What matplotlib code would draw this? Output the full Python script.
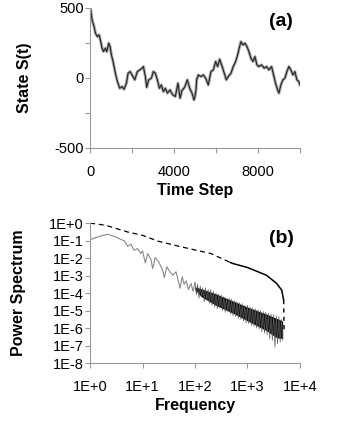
import numpy as np
import matplotlib
matplotlib.use("Agg")
from matplotlib import pyplot as plt

# panel (a): random walk
step = [0, 32, 95, 190, 254, 349, 429, 508, 571, 635, 730, 794, 889, 952, 1016,
        1095, 1206, 1302, 1413, 1524, 1619, 1730, 1810, 1905, 2000, 2127, 2254,
        2365, 2476, 2540, 2635, 2698, 2794, 2921, 3016, 3111, 3206, 3302, 3397,
        3492, 3587, 3683, 3810, 3937, 4063, 4190, 4286, 4381, 4508, 4635, 4746,
        4857, 4952, 5000, 5048, 5079, 5159, 5286, 5397, 5508, 5635, 5762, 5873,
        5984, 6079, 6175, 6270, 6397, 6492, 6587, 6714, 6825, 6937, 7032, 7127,
        7190, 7286, 7381, 7476, 7571, 7667, 7762, 7857, 7952, 8048, 8175, 8302,
        8413, 8524, 8651, 8746, 8841, 8937, 9000, 9095, 9190, 9286, 9381, 9476,
        9571, 9667, 9762, 9857, 9952, 10000]
state = [500, 486, 414, 367, 319, 295, 307, 259, 212, 188, 212, 188, 248, 224, 164,
         117, 33, -26, -74, -62, -81, -38, 33, 45, 21, -14, 45,
         57, 69, 81, 9, -67, -14, -2, 45, 33, -14, -74, -50,
         -98, -74, -109, -86, -121, -133, -38, -145, -90, -67, -14, -74,
         -109, -157, -133, -86, -14, 21, 9, 21, -2, -50, 45, 57,
         117, 81, 133, 93, 33, -14, 9, 33, 81, 117, 164, 224,
         259, 236, 248, 224, 188, 141, 117, 152, 93, 81, 93, 69,
         81, 57, 81, 21, -38, -86, -109, -50, -14, -2, 45, 81,
         57, 21, 45, -14, -26, -50]

# panel (b): spectrum of the walk (log10 values), low frequency part
freq_lo = [1, 1.49, 2.15, 2.88, 3.6, 4.5, 5.2, 6.0, 6.9, 8.0, 9.3, 10, 11.3,
           12.5, 14.5, 15.6, 17.5, 20.3, 24.2, 26.1, 29, 33.3, 37.6, 43.6, 52,
           57, 62, 68, 75, 84, 92, 100]
spec_lo = [-0.95, -0.76, -0.64, -0.76, -0.89, -1.02, -1.33, -1.21, -1.55,
           -1.46, -1.74, -1.59, -2.28, -1.74, -2.09, -2.6, -1.97, -2.22, -2.69,
           -3.11, -2.5, -2.79, -2.98, -2.79, -3.73, -3.07, -3.5, -3.3, -3.8,
           -3.45, -3.9, -3.4]
# high frequency part, dense and noisy
freq_hi = [100, 106, 112, 119, 126, 133, 141, 150, 158, 168, 178, 188, 200, 211,
           224, 237, 251, 266, 282, 299, 316, 335, 355, 376, 398, 422, 447,
           473, 501, 531, 562, 596, 631, 668, 708, 750, 794, 841, 891, 944,
           1000, 1059, 1122, 1189, 1259, 1334, 1413, 1496, 1585, 1679, 1778,
           1884, 1995, 2113, 2239, 2371, 2512, 2661, 2818, 2985, 3162, 3350,
           3548, 3758, 3981, 4217, 4467, 4732]
spec_hi = [-3.4, -4.1, -3.5, -4.3, -3.6, -4.2, -3.7, -4.5, -3.7, -4.4, -3.8,
           -4.6, -3.8, -4.7, -3.9, -4.8, -4.0, -4.9, -4.05, -4.85, -4.1, -5.0,
           -4.2, -5.1, -4.3, -5.05, -4.3, -5.2, -4.35, -5.3, -4.45, -5.35,
           -4.5, -5.45, -4.55, -5.5, -4.6, -5.6, -4.7, -5.7, -4.7, -5.75,
           -4.8, -5.85, -4.85, -5.9, -4.9, -6.0, -4.95, -6.05, -5.0, -6.2,
           -5.05, -6.3, -5.1, -6.4, -5.15, -6.6, -5.2, -6.7, -5.25, -7.1,
           -5.3, -6.9, -5.35, -6.8, -5.5, -6.7]
# dark core of the noisy band
freq_core = [100, 130, 250, 525, 1100, 2300, 3600, 4700]
core_hi = [-3.65, -3.75, -4.05, -4.45, -4.85, -5.2, -5.45, -5.6]
core_lo = [-3.8, -4.2, -4.7, -5.15, -5.65, -6.15, -6.55, -6.6]

# theoretical curve
freq_th = [1, 2, 5.2, 10, 20, 50, 105, 200, 470, 525, 1000, 2300, 3600, 4500,
           4900, 5000]
spec_th = [0, -0.13, -0.51, -0.7, -1.04, -1.33, -1.55, -1.74, -2.25, -2.31,
           -2.54, -2.98, -3.45, -3.83, -4.4, -6.1]

plt.rcParams['font.family'] = ['Liberation Sans', 'DejaVu Sans']
fig = plt.figure(figsize=(3.4, 4.4), dpi=100)
spine_col = '#999999'
tick_fs = 10.5
lab_fs = 11.5


def style(ax):
    for s in ['top', 'right']:
        ax.spines[s].set_visible(False)
    for s in ['left', 'bottom']:
        ax.spines[s].set_color(spine_col)
        ax.spines[s].set_linewidth(0.8)
    ax.tick_params(direction='out', length=3.5, width=0.8, color=spine_col,
                   labelsize=tick_fs)
    ax.tick_params(axis='x', pad=9)
    ax.tick_params(axis='y', pad=1)


# (a)
ax1 = fig.add_axes([0.265, 0.664, 0.617, 0.318])
ax1.plot(step, state, color='#aaaaaa', lw=2.2)
ax1.plot(step, state, color='#222222', lw=0.8)
ax1.set_xlim(0, 10000)
ax1.set_ylim(-500, 500)
ax1.set_xticks([0, 2000, 4000, 6000, 8000, 10000])
ax1.set_xticklabels(['0', '', '4000', '', '8000', ''])
ax1.set_yticks([-500, -250, 0, 250, 500])
ax1.set_yticklabels(['-500', '', '0', '', '500'])
style(ax1)
ax1.set_xlabel('Time Step', fontsize=lab_fs, fontweight='bold')
ax1.set_ylabel('State S(t)', fontsize=lab_fs, fontweight='bold')
ax1.xaxis.set_label_coords(0.5, -0.25)
ax1.yaxis.set_label_coords(-0.276, 0.5)
ax1.text(0.91, 0.9, '(a)', transform=ax1.transAxes, fontsize=14,
         fontweight='bold', ha='center', va='center')

# (b)
ax2 = fig.add_axes([0.265, 0.175, 0.617, 0.318])
ax2.plot(freq_hi, [10 ** v for v in spec_hi], color='#555555', lw=0.5)
ax2.fill_between(freq_core, [10 ** v for v in core_lo],
                 [10 ** v for v in core_hi], color='#111111', lw=0)
ax2.plot(freq_lo, [10 ** v for v in spec_lo], color='#888888', lw=0.8)
th = [10 ** v for v in spec_th]
ax2.plot(freq_th[:9], th[:9], color='black', lw=0.9, ls=(0, (4, 3)))
ax2.plot(freq_th[8:15], th[8:15], color='black', lw=1.1)
ax2.plot(freq_th[14:], th[14:], color='black', lw=1.0, ls=(0, (3, 3)))
ax2.set_xscale('log')
ax2.set_yscale('log')
ax2.set_xlim(1, 1e4)
ax2.set_ylim(1e-8, 1)
ax2.set_xticks([1, 10, 100, 1000, 10000])
ax2.set_xticklabels(['1E+0', '1E+1', '1E+2', '1E+3', '1E+4'])
ax2.set_yticks([10.0 ** -k for k in range(9)])
ax2.set_yticklabels(['1E+0'] + ['1E-%d' % k for k in range(1, 9)])
ax2.minorticks_off()
style(ax2)
ax2.set_xlabel('Frequency', fontsize=lab_fs, fontweight='bold')
ax2.set_ylabel('Power Spectrum', fontsize=lab_fs, fontweight='bold')
ax2.xaxis.set_label_coords(0.5, -0.25)
ax2.yaxis.set_label_coords(-0.305, 0.5)
ax2.text(0.91, 0.89, '(b)', transform=ax2.transAxes, fontsize=14,
         fontweight='bold', ha='center', va='center')

fig.savefig('out.png', dpi=100)
